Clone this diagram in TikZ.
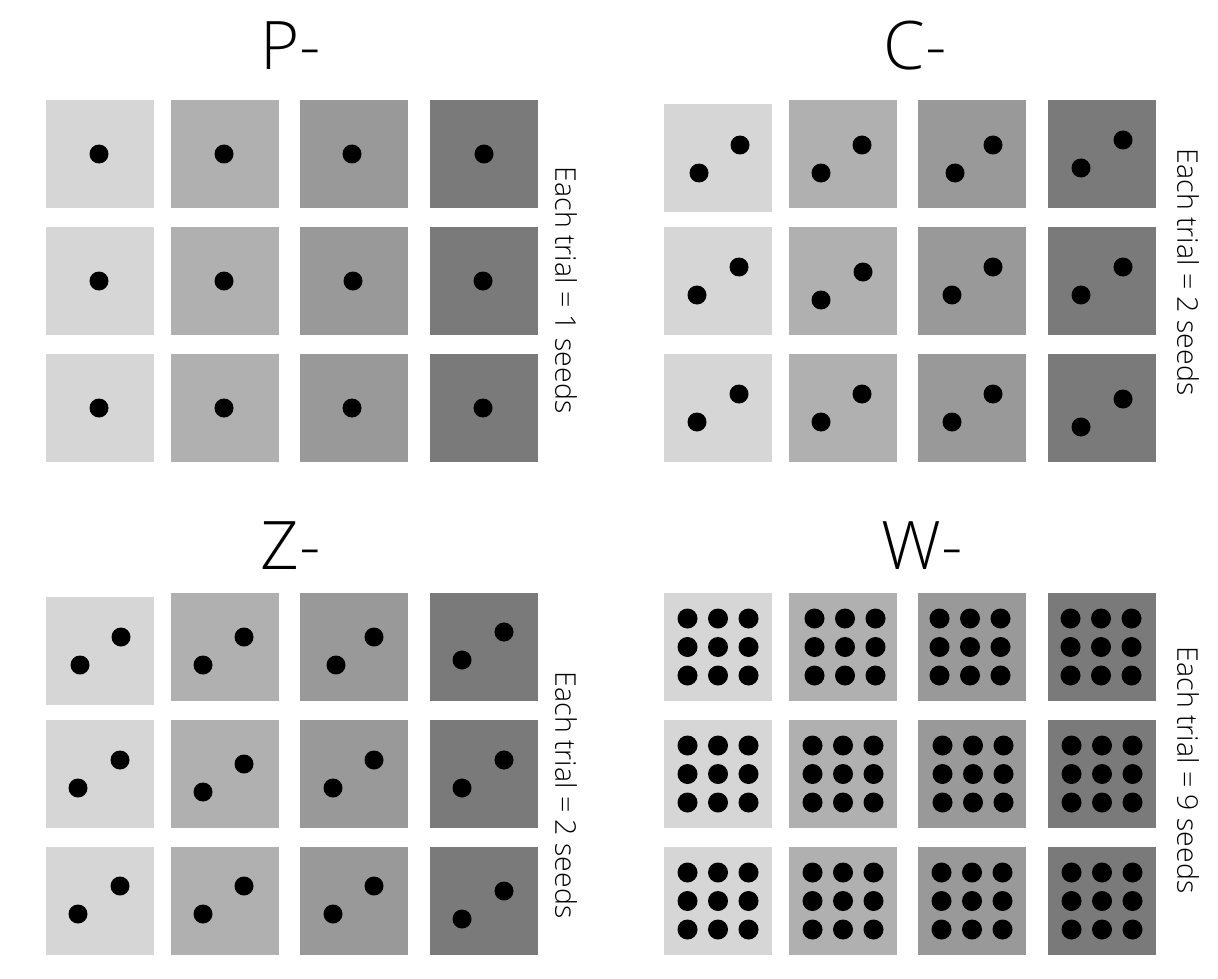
\documentclass[tikz,border=0pt]{standalone}
\usepackage{fontspec}
\IfFontExistsTF{Open Sans Light}{\setmainfont{Open Sans Light}}{\setmainfont{Open Sans}}
\usepackage{tikz}
\usetikzlibrary{positioning}
\definecolor{toneA}{RGB}{214,214,214}
\definecolor{toneB}{RGB}{176,176,176}
\definecolor{toneC}{RGB}{153,153,153}
\definecolor{toneD}{RGB}{122,122,122}
\tikzset{
  tile/.style={draw=none},
  seed/.style={fill=black},
  ttl/.style={font=\fontsize{67}{70}\selectfont,inner sep=0pt},
  trial/.style={font=\fontsize{28.5}{32}\selectfont,rotate=-90,inner sep=0pt},
}
\newcommand{\tiles}[3]{% left x of panel grid, top y, shift of first tile
  \foreach \dx/\tone in {0/toneA,125/toneB,254/toneC,384/toneD}
    \foreach \dy in {0,127,254}{
      \pgfmathsetmacro{\sh}{(\dx==0 && \dy==0) ? #3 : 0}
      \fill[tile,\tone] (#1+\dx,#2+\dy+\sh) rectangle ++(108,108);}}

\begin{document}
\begin{tikzpicture}[x=1pt,y=-1pt]
    \useasboundingbox[fill=white] (0,0) rectangle (1218,979);
    % --- P-: one seed per tile ---
    \node[ttl] (titP) at (291,46) {P-};
    \tiles{46}{100}{0}
    \foreach \sx/\sy in {99/154,224/154,352/154,484/154,
                         99/281,224/281,353/281,483/281,
                         99/408,224/408,352/408,483/408}
      \fill[seed] (\sx,\sy) circle (9.5);
    \node[trial] (labP) at (566,290) {Each trial = 1 seeds};
    % --- C-: two seeds per tile ---
    \node[ttl] (titC) at (915,46) {C-};
    \tiles{664}{100}{4}
    \foreach \ax/\ay/\bx/\by in {699/173/740/145,821/173/862/145,955/173/993/145,1081/168/1123/140,
                                 697/295/739/267,821/300/863/272,952/295/993/267,1081/295/1123/267,
                                 697/422/739/394,821/422/862/394,952/422/993/394,1081/427/1123/399}
      {\fill[seed] (\ax,\ay) circle (9.5);
       \fill[seed] (\bx,\by) circle (9.5);}
    \node[trial] (labC) at (1188,272) {Each trial = 2 seeds};
    % --- Z-: two seeds per tile ---
    \node[ttl] (titZ) at (291,546) {Z-};
    \tiles{46}{593}{4}
    \foreach \ax/\ay/\bx/\by in {80/665/121/637,203/665/244/637,336/665/374/637,462/660/504/632,
                                 78/788/120/760,203/792/244/764,333/788/374/760,462/788/504/760,
                                 78/914/120/886,203/914/244/886,333/914/374/886,462/919/504/891}
      {\fill[seed] (\ax,\ay) circle (9.5);
       \fill[seed] (\bx,\by) circle (9.5);}
    \node[trial] (labZ) at (566,795) {Each trial = 2 seeds};
    % --- W-: nine seeds per tile (3x3) ---
    \node[ttl] (titW) at (922,546) {W-};
    \tiles{664}{593}{0}
    \foreach \cx/\cy in {718/647,845/647,970/647,1101/647,
                         718/774,843/774,973/774,1102/774,
                         718/901,843/901,972/901,1102/901}
      \foreach \i in {-1,0,1}
        \foreach \j in {-1,0,1}
          \fill[seed] (\cx+30.5*\i,\cy+28.5*\j) circle (10);
    \node[trial] (labW) at (1188,770) {Each trial = 9 seeds};
\end{tikzpicture}
\end{document}
